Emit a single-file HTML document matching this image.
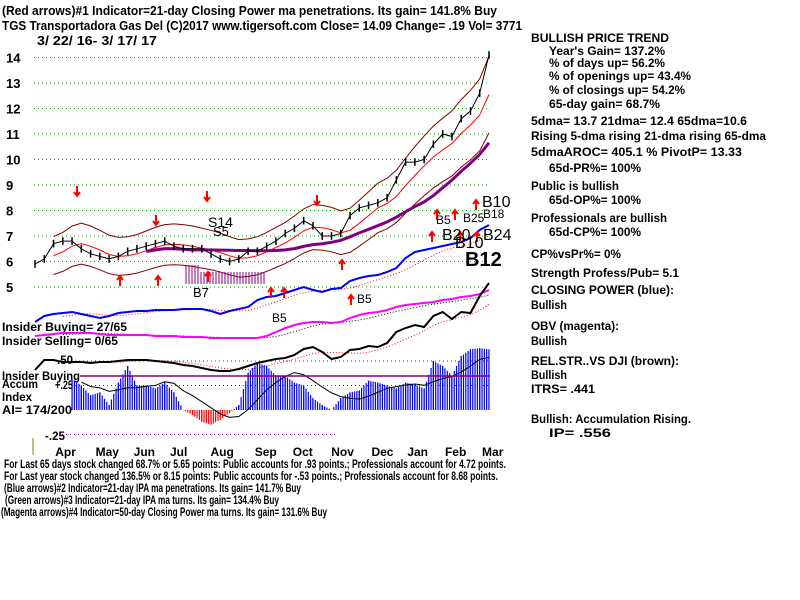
<!DOCTYPE html>
<html><head><meta charset="utf-8"><style>
html,body{margin:0;padding:0;background:#fff;}
svg{display:block;font-family:"Liberation Sans",sans-serif;font-weight:bold;}
</style></head><body>
<svg id="chart" width="800" height="600" viewBox="0 0 800 600" xmlns="http://www.w3.org/2000/svg">
<g id="texts" font-size="13" fill="#000">
<text x="2" y="15" textLength="495" lengthAdjust="spacingAndGlyphs">(Red arrows)#1 Indicator=21-day Closing Power ma penetrations. Its gain= 141.8% Buy</text>
<text x="2" y="30" textLength="520" lengthAdjust="spacingAndGlyphs">TGS   Transportadora Gas Del  (C)2017 www.tigersoft.com      Close=  14.09  Change= .19 Vol= 3771</text>
<text x="37" y="45" textLength="120" lengthAdjust="spacingAndGlyphs">3/ 22/ 16- 3/ 17/ 17</text>
</g>
<g id="right" font-size="12" fill="#000">
<text x="531" y="42" textLength="138" lengthAdjust="spacingAndGlyphs">BULLISH PRICE TREND</text>
<text x="549" y="55" textLength="116" lengthAdjust="spacingAndGlyphs">Year's Gain= 137.2%</text>
<text x="549" y="67" textLength="116" lengthAdjust="spacingAndGlyphs">% of days up= 56.2%</text>
<text x="549" y="80" textLength="142" lengthAdjust="spacingAndGlyphs">% of openings up= 43.4%</text>
<text x="549" y="94" textLength="136" lengthAdjust="spacingAndGlyphs">% of closings up= 54.2%</text>
<text x="549" y="108" textLength="111" lengthAdjust="spacingAndGlyphs">65-day gain= 68.7%</text>
<text x="531" y="125" textLength="216" lengthAdjust="spacingAndGlyphs">5dma= 13.7 21dma= 12.4 65dma=10.6</text>
<text x="531" y="140" textLength="235" lengthAdjust="spacingAndGlyphs">Rising 5-dma  rising 21-dma  rising 65-dma</text>
<text x="531" y="156" textLength="211" lengthAdjust="spacingAndGlyphs">5dmaAROC= 405.1  %  PivotP= 13.33</text>
<text x="549" y="172" textLength="92" lengthAdjust="spacingAndGlyphs">65d-PR%= 100%</text>
<text x="531" y="190" textLength="88" lengthAdjust="spacingAndGlyphs">Public is bullish</text>
<text x="549" y="204" textLength="92" lengthAdjust="spacingAndGlyphs">65d-OP%= 100%</text>
<text x="531" y="222" textLength="136" lengthAdjust="spacingAndGlyphs">Professionals are bullish</text>
<text x="549" y="236" textLength="92" lengthAdjust="spacingAndGlyphs">65d-CP%= 100%</text>
<text x="531" y="258" textLength="90" lengthAdjust="spacingAndGlyphs">CP%vsPr%=  0%</text>
<text x="531" y="277" textLength="148" lengthAdjust="spacingAndGlyphs">Strength Profess/Pub= 5.1</text>
<text x="531" y="294" textLength="143" lengthAdjust="spacingAndGlyphs">CLOSING POWER (blue):</text>
<text x="531" y="309" textLength="36" lengthAdjust="spacingAndGlyphs">Bullish</text>
<text x="531" y="330" textLength="88" lengthAdjust="spacingAndGlyphs">OBV (magenta):</text>
<text x="531" y="345" textLength="36" lengthAdjust="spacingAndGlyphs">Bullish</text>
<text x="531" y="365" textLength="148" lengthAdjust="spacingAndGlyphs">REL.STR..VS DJI (brown):</text>
<text x="531" y="379" textLength="36" lengthAdjust="spacingAndGlyphs">Bullish</text>
<text x="531" y="393" textLength="64" lengthAdjust="spacingAndGlyphs">ITRS= .441</text>
<text x="531" y="423" textLength="160" lengthAdjust="spacingAndGlyphs">Bullish: Accumulation Rising.</text>
<text x="549" y="437" textLength="62" lengthAdjust="spacingAndGlyphs">IP=  .556</text>
</g>
<g id="bottom" font-size="12" fill="#000">
<text x="4" y="468" textLength="502" lengthAdjust="spacingAndGlyphs">For Last 65 days stock changed  68.7% or  5.65 points:  Public accounts for  .93 points.;  Professionals account for  4.72 points.</text>
<text x="4" y="480" textLength="494" lengthAdjust="spacingAndGlyphs">For Last year stock changed  136.5% or  8.15 points:  Public accounts for -.53 points.;  Professionals account for  8.68 points.</text>
<text x="4" y="492" textLength="297" lengthAdjust="spacingAndGlyphs">(Blue arrows)#2 Indicator=21-day IPA ma penetrations. Its gain= 141.7% Buy</text>
<text x="5" y="504" textLength="274" lengthAdjust="spacingAndGlyphs">(Green arrows)#3 Indicator=21-day IPA ma turns. Its gain= 134.4% Buy</text>
<text x="1" y="516" textLength="326" lengthAdjust="spacingAndGlyphs">(Magenta arrows)#4 Indicator=50-day Closing Power ma turns. Its gain= 131.6% Buy</text>
</g>
<g id="leftlabels" font-size="12" fill="#000">
<text x="2" y="331" textLength="125" lengthAdjust="spacingAndGlyphs">Insider Buying= 27/65</text>
<text x="2" y="345" textLength="116" lengthAdjust="spacingAndGlyphs">Insider Selling= 0/65</text>
<text x="57" y="364" textLength="16" lengthAdjust="spacingAndGlyphs">.50</text>
<text x="2" y="380" textLength="78" lengthAdjust="spacingAndGlyphs">Insider Buying</text>
<text x="2" y="388" textLength="36" lengthAdjust="spacingAndGlyphs">Accum</text>
<text x="55" y="389" textLength="18" lengthAdjust="spacingAndGlyphs">+.25</text>
<text x="2" y="401" textLength="30" lengthAdjust="spacingAndGlyphs">Index</text>
<text x="2" y="414" textLength="70" lengthAdjust="spacingAndGlyphs">AI= 174/200</text>
<text x="45" y="440" textLength="20" lengthAdjust="spacingAndGlyphs">-.25</text>
</g>
<line x1="33" y1="438" x2="33" y2="455" stroke="#8b8000" stroke-width="1"/>
<g id="plot"></g>
</svg>
<script>
const priceTicks = [5,6,7,8,9,10,11,12,13,14];
const months = ["Apr","May","Jun","Jul","Aug","Sep","Oct","Nov","Dec","Jan","Feb","Mar"];
const monthIdx = [3.3,7.8,11.8,15.5,20.2,24.9,28.9,33.2,37.5,41.3,45.4,49.4];
const closes = [5.9,6.1,6.7,6.8,6.8,6.5,6.3,6.2,6.1,6.2,6.4,6.5,6.6,6.7,6.8,6.6,6.5,6.5,6.5,6.3,6.1,6.0,6.1,6.4,6.4,6.6,6.8,7.1,7.3,7.6,7.4,7.0,7.0,7.1,7.8,8.1,8.2,8.3,8.5,9.2,9.9,9.9,10.0,10.6,11.0,10.9,11.6,11.9,12.6,14.1];
const closingPower = [8,14,16,17,18,16,14,12,14,17,18,19,19,20,20,20,21,21,21,19,16,19,21,23,30,33,34,37,40,43,40,38,41,42,49,52,54,55,58,62,72,78,80,82,84,86,88,92,100,105];
const obv = [-6,-5,-4,-3,-3,-3,-3,-4,-5,-5,-5,-5,-5,-6,-6,-6,-7,-7,-7,-8,-8,-8,-8,-8,-8,-6,-2,2,5,7,8,8,7,8,12,15,17,18,20,23,25,26,27,28,30,31,33,34,36,40];
const relStrength = [-10,0,0,-2,-2,-2,-3,-2,-2,-1,0,0,0,-1,-2,-3,-5,-6,-8,-10,-11,-11,-9,-6,-3,-1,1,2,5,11,13,8,1,3,10,11,14,13,17,28,32,35,33,44,48,41,48,47,64,77];
const accumIndex = [null,null,null,null,.32,.25,.15,.18,.05,.28,.45,.25,.25,.22,.28,.18,0,-.05,-.12,-.15,-.1,-.03,.05,.38,.48,.45,.35,.35,.28,.25,.12,.05,0,.12,.18,.2,.3,.28,.25,.22,.28,.26,.22,.5,.45,.35,.55,.62,.63,.62];

const NS="http://www.w3.org/2000/svg";
const plot=document.getElementById('plot');
const N=closes.length;
function xs(i){return 35+i*(454/(N-1));}
function yPrice(p){return 287-(p-5)*25.5;}
function yCP(v){return 330-v;}
function yOBV(v){return 330-v;}
function yRS(v){return 360-v;}
function yAI(v){return 410-v*98;}
function mk(tag,attrs,parent){const e=document.createElementNS(NS,tag);for(const k in attrs)e.setAttribute(k,attrs[k]);(parent||plot).appendChild(e);return e;}
function ma(arr,n){return arr.map((v,i)=>{if(v===null)return null;let s=0,c=0;for(let j=Math.max(0,i-n+1);j<=i;j++){if(arr[j]!==null){s+=arr[j];c++;}}return s/c;});}
function pathOf(arr,yf,start){let d='';arr.forEach((v,i)=>{if(v===null||i<(start||0))return;d+=(d?'L':'M')+xs(i).toFixed(1)+','+yf(v).toFixed(1);});return d;}

priceTicks.forEach(p=>{
  const g=mk('line',{x1:34,x2:490,y1:yPrice(p),y2:yPrice(p),stroke:'#0a0','stroke-width':1,'stroke-dasharray':'1,3'});
  
  
  const t=mk('text',{x:6,y:yPrice(p)+5,'font-size':13,fill:'#000'});
  
  
  t.textContent=p;
});
months.forEach((m,k)=>{
  const t=mk('text',{x:xs(monthIdx[k]),y:456,'font-size':12,fill:'#000','text-anchor':'middle'});
  
  
  t.textContent=m;
});
[[.5,75],[.25,75],[-.25,62]].forEach(([v,x0])=>{
  const l=mk('line',{x1:x0,x2:v<0?337:490,y1:yAI(v),y2:yAI(v),stroke:'#a0a','stroke-width':1,'stroke-dasharray':'1,3'});
  
  
});

const ma21=ma(closes,4), ma65=ma(closes,13);
const up=ma21.map(v=>v*1.12), lo=ma21.map(v=>v*0.88);
let e;
e=mk('path',{d:pathOf(up,yPrice,2),fill:'none',stroke:'#800000','stroke-width':1});


e=mk('path',{d:pathOf(lo,yPrice,2),fill:'none',stroke:'#800000','stroke-width':1});


e=mk('path',{d:pathOf(ma21,yPrice,2),fill:'none',stroke:'#f00','stroke-width':1});


e=mk('path',{d:pathOf(ma65,yPrice,12),fill:'none',stroke:'#800080','stroke-width':3});



closes.forEach((c,i)=>{
  const x=xs(i);
  const b=mk('line',{x1:x,x2:x,y1:yPrice(c+0.15),y2:yPrice(c-0.15),stroke:'#000','stroke-width':1.5});
  
  
});
e=mk('path',{d:pathOf(closes,yPrice),fill:'none',stroke:'#000','stroke-width':1});



e=mk('path',{d:pathOf(ma(closingPower,5),yCP,3),fill:'none',stroke:'#f00','stroke-width':1,'stroke-dasharray':'1,2'});


e=mk('path',{d:pathOf(closingPower,yCP),fill:'none',stroke:'#00f','stroke-width':2});


e=mk('path',{d:pathOf(ma(obv,5),yOBV,3),fill:'none',stroke:'#000','stroke-width':1,'stroke-dasharray':'1,2'});


e=mk('path',{d:pathOf(obv,yOBV),fill:'none',stroke:'#f0f','stroke-width':2});


e=mk('path',{d:pathOf(ma(relStrength,5),yRS,3),fill:'none',stroke:'#f00','stroke-width':1,'stroke-dasharray':'1,2'});


e=mk('path',{d:pathOf(relStrength,yRS),fill:'none',stroke:'#000','stroke-width':2});



// AI histogram: striped vertical lines, interpolated between data points for rendering
for(let i=4;i<N-1;i++){
  const v0=accumIndex[i], v1=accumIndex[i+1];
  const x0=xs(i), x1=xs(i+1);
  for(let x=x0;x<x1;x+=2.3){
    const t=(x-x0)/(x1-x0), v=v0+(v1-v0)*t;
    const bar=mk('line',{x1:x,x2:x,y1:yAI(0),y2:yAI(v),stroke:v>=0?'#00f':'#f00','stroke-width':1.2});
    
    
  }
}
e=mk('path',{d:pathOf(ma(accumIndex,6),yAI,5),fill:'none',stroke:'#000','stroke-width':1});


e=mk('line',{x1:80,x2:490,y1:376,y2:376,stroke:'#800080','stroke-width':1.5});



for(let x=186;x<265;x+=3){
  const m=mk('line',{x1:x,x2:x,y1:x<200?265:272,y2:284,stroke:'#800080','stroke-width':1});
  
  
}
[[77,true,196],[156,true,225],[207,true,201],[317,true,205],[120,false,276],[158,false,276],[208,false,272],[342,false,260],[271,false,288],[284,false,288],[351,false,295],[432,false,232],[437,false,210],[455,false,210],[460,false,232],[476,false,200],[477,false,232]].forEach(([x,down,y])=>{
  const a=mk('path',{d:down?`M${x},${y-10}V${y}M${x-3},${y-4}L${x},${y}L${x+3},${y-4}`:`M${x},${y+10}V${y}M${x-3},${y+4}L${x},${y}L${x+3},${y+4}`,stroke:'#f00','stroke-width':2,fill:'none'});
  
  
});
[["B12",465,266,20],["B10",482,207,16],["B24",483,240,16],["B20",442,240,16],["B18",483,218,12],["B5",436,224,12],["B10",455,248,16],["B7",193,297,13],["S14",208,227,14],["S5",213,236,13],["B5",272,322,12],["B5",357,303,12],["B25",463,222,12]].forEach(([s,x,y,f])=>{
  const t=mk('text',{x:x,y:y,'font-size':f,fill:'#000','font-weight':s==="B12"?'bold':'normal'});
  
  
  t.textContent=s;
});
</script>
</body></html>
